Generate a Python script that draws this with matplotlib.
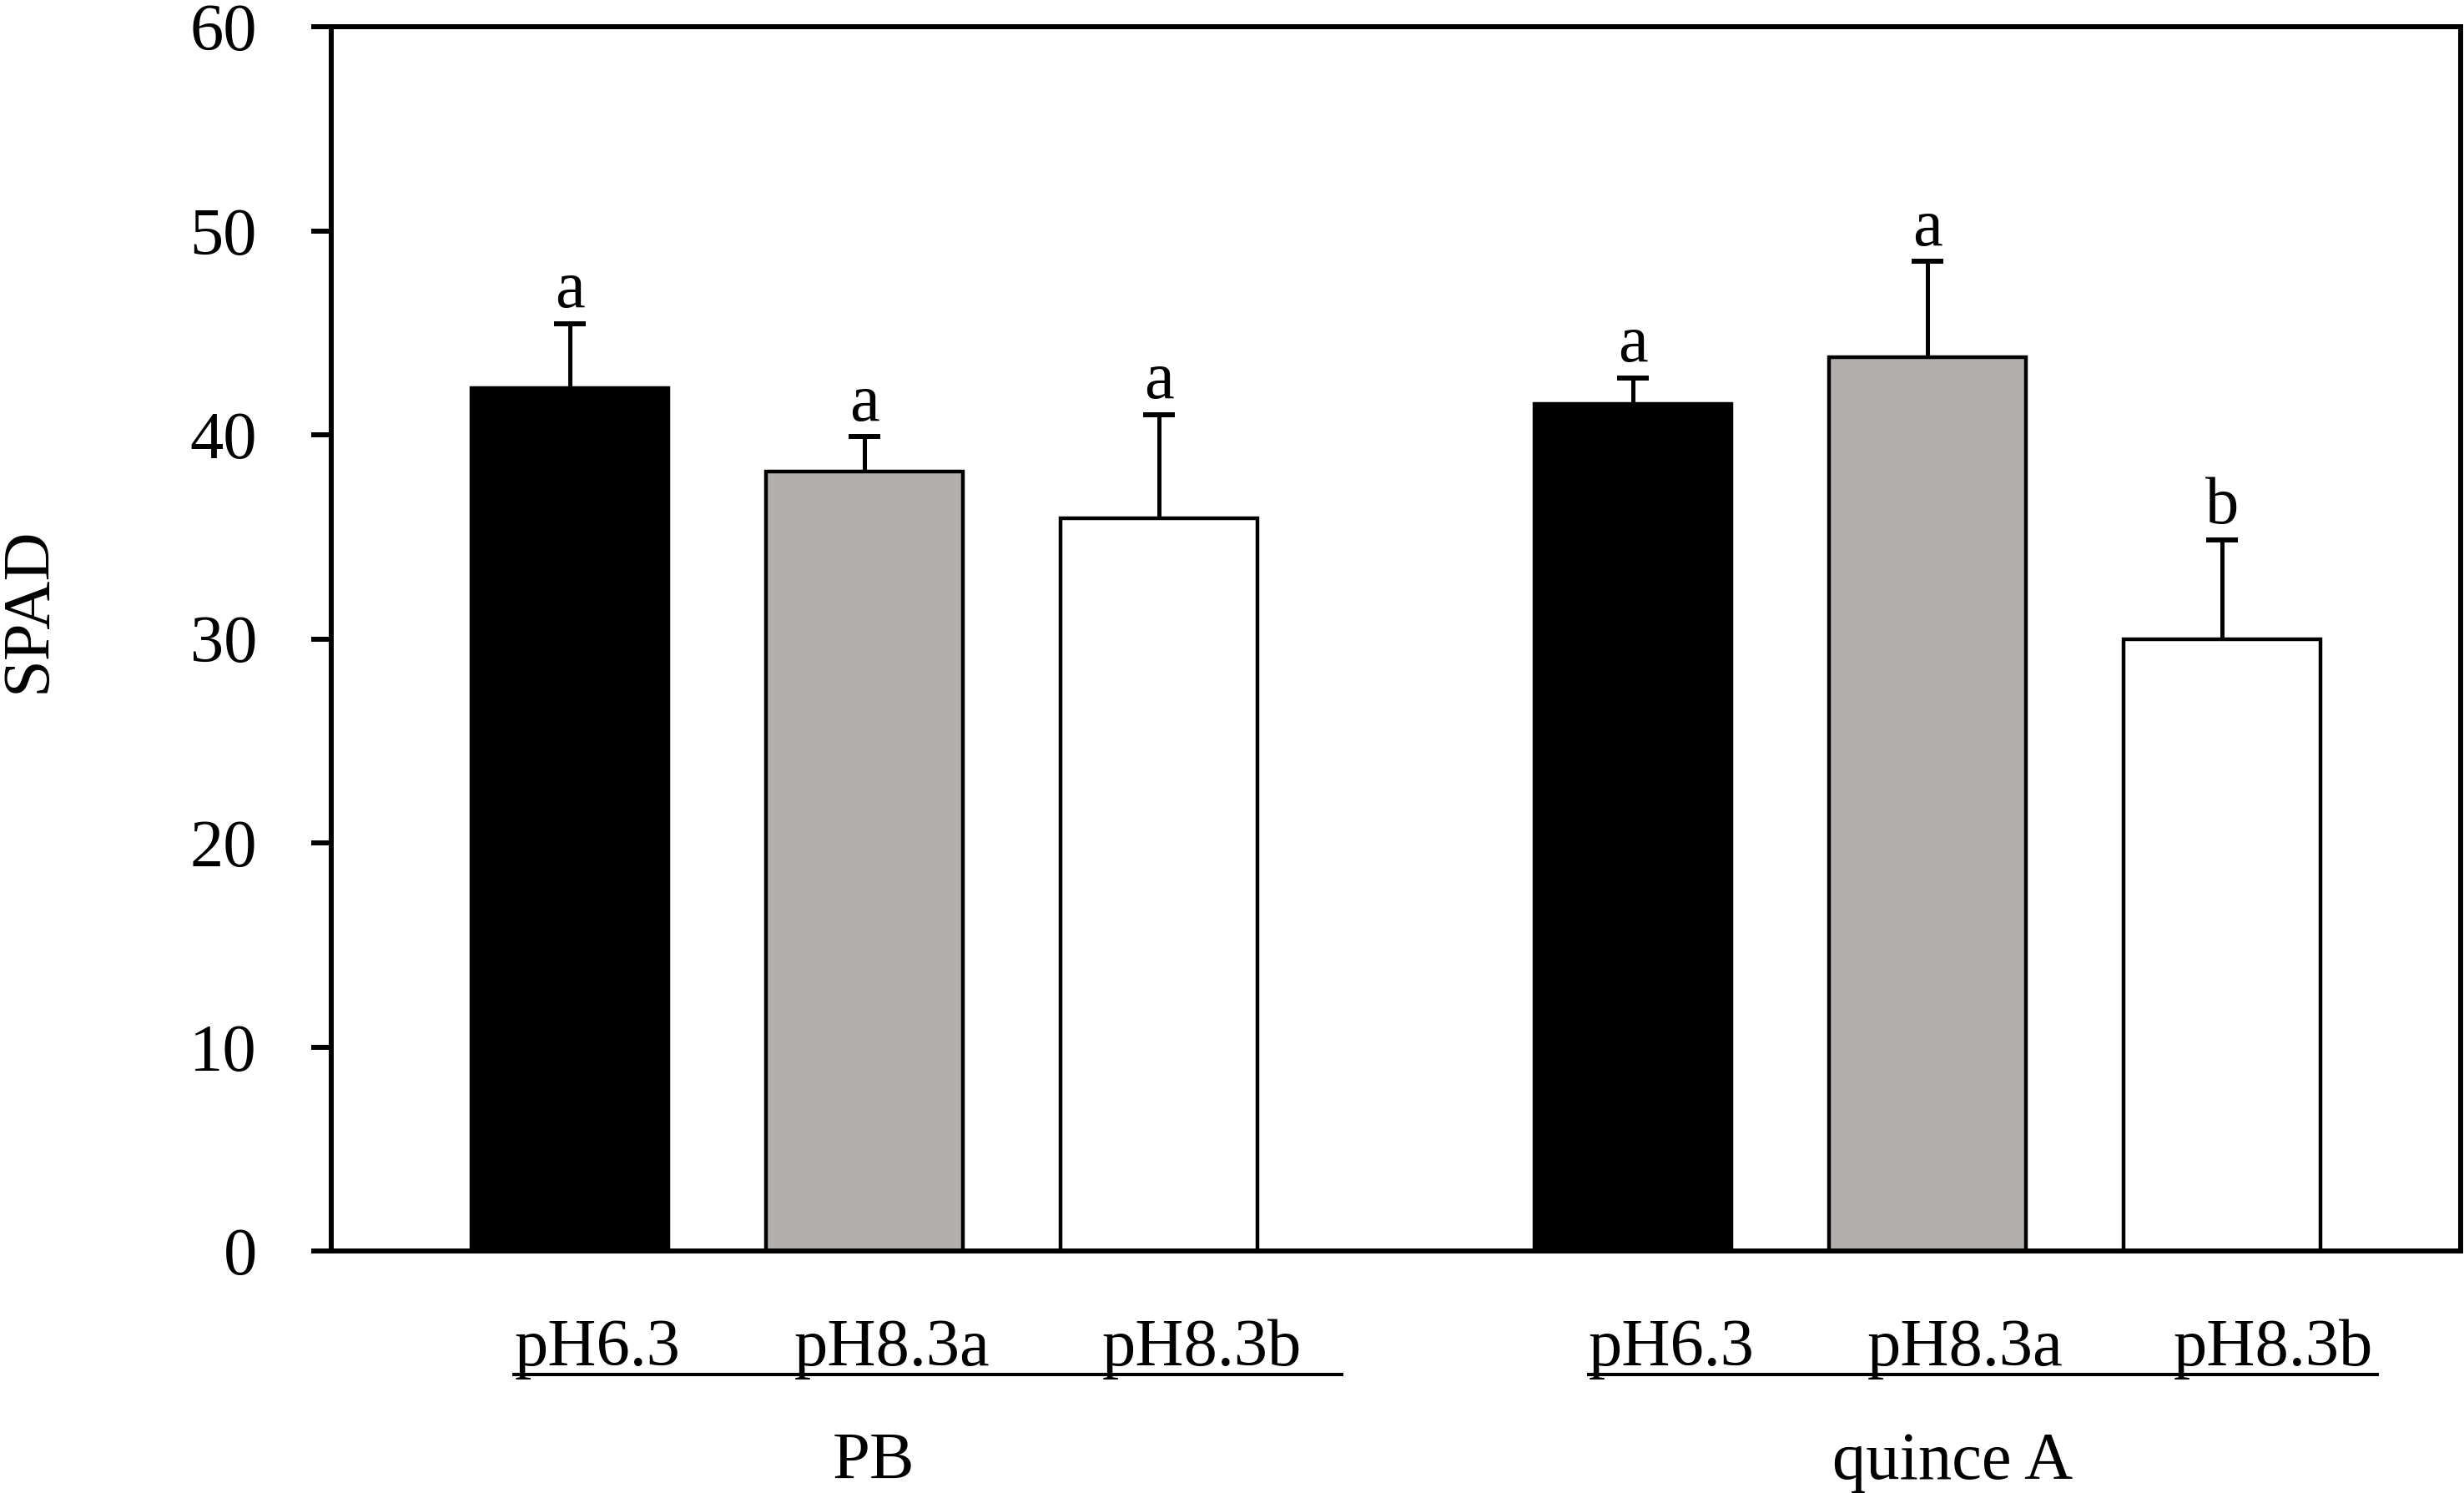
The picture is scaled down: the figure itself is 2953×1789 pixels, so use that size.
import matplotlib
matplotlib.use('Agg')
import matplotlib.pyplot as plt
import matplotlib.transforms as mtransforms
import numpy as np

plt.rcParams['font.family'] = ['Liberation Serif', 'DejaVu Serif']

# ---------------- data ----------------
rootstocks = ['PB', 'quince A']
treatments = ['pH6.3', 'pH8.3a', 'pH8.3b']
pb_means = [42.3, 38.2, 35.9]
pb_errs = [3.15, 1.7, 5.1]
quince_means = [41.5, 43.8, 30.0]
quince_errs = [1.3, 4.7, 4.85]
pb_letters = ['a', 'a', 'a']
quince_letters = ['a', 'a', 'b']
bar_colors = ['#000000', '#b2afae', '#ffffff']
y_ticks = [0, 10, 20, 30, 40, 50, 60]

# ---------------- layout ----------------
W, H = 2953, 1789
group_starts = [0.0, 3.611]
bar_width = 0.668
label_dx_px = [[34, 34, 52], [46, 45, 61]]
underline_spans = [(-0.194, 2.627), (3.454, 6.143)]
group_label_dx_px = [11, 30]
FS = 58

fig = plt.figure(figsize=(W / 100, H / 100), dpi=100)
ax = fig.add_axes([397 / W, 1 - 1499 / H, (2949 - 397) / W, 1467 / H])

means_all = [pb_means, quince_means]
errs_all = [pb_errs, quince_errs]
letters_all = [pb_letters, quince_letters]

trans_x = mtransforms.blended_transform_factory(ax.transData, ax.transAxes)

for g, start in enumerate(group_starts):
    x = start + np.arange(len(treatments))
    means = np.array(means_all[g])
    errs = np.array(errs_all[g])
    ax.bar(x, means, width=bar_width, color=bar_colors, edgecolor='black',
           linewidth=3.2, zorder=2)
    # upper-only error bars: stem + single cap
    ax.errorbar(x, means, yerr=[np.zeros(len(errs)), errs], fmt='none',
                ecolor='black', elinewidth=3.6, capsize=0, zorder=3)
    ax.plot(x, means + errs, linestyle='none', marker='_', markersize=27,
            markeredgewidth=4.3, color='black', zorder=3)
    for xi, m, e, let in zip(x, means, errs, letters_all[g]):
        ax.annotate(let, xy=(xi, m + e), xytext=(0, 14), textcoords='offset points',
                    ha='center', va='baseline', fontsize=FS)
    # treatment labels
    for i, (xi, lab) in enumerate(zip(x, treatments)):
        tr = mtransforms.offset_copy(trans_x, fig=fig, x=label_dx_px[g][i], y=0, units='dots')
        ax.text(xi, -0.0934, lab, transform=tr, ha='center', va='baseline',
                fontsize=FS, clip_on=False)
    # underline
    x0, x1 = underline_spans[g]
    ax.plot([x0, x1], [-0.1009, -0.1009], transform=trans_x, color='black',
            linewidth=2.9, clip_on=False, solid_capstyle='butt')
    # group label
    tr = mtransforms.offset_copy(trans_x, fig=fig, x=group_label_dx_px[g], y=0, units='dots')
    ax.text(x[1], -0.186, rootstocks[g], transform=tr, ha='center', va='baseline',
            fontsize=FS, clip_on=False)

ax.set_xlim(-0.809, 6.42)
ax.set_ylim(0, 60)
ax.set_yticks(y_ticks)
ax.set_xticks([])
ax.tick_params(axis='y', direction='out', length=17, width=4.3, pad=47, labelsize=FS)
for sp in ax.spines.values():
    sp.set_linewidth(4.3)

ax.text(-0.1418, 0.524, 'SPAD', rotation=90, ha='center', va='center',
        transform=ax.transAxes, fontsize=FS)

fig.savefig('out.png', dpi=100)
